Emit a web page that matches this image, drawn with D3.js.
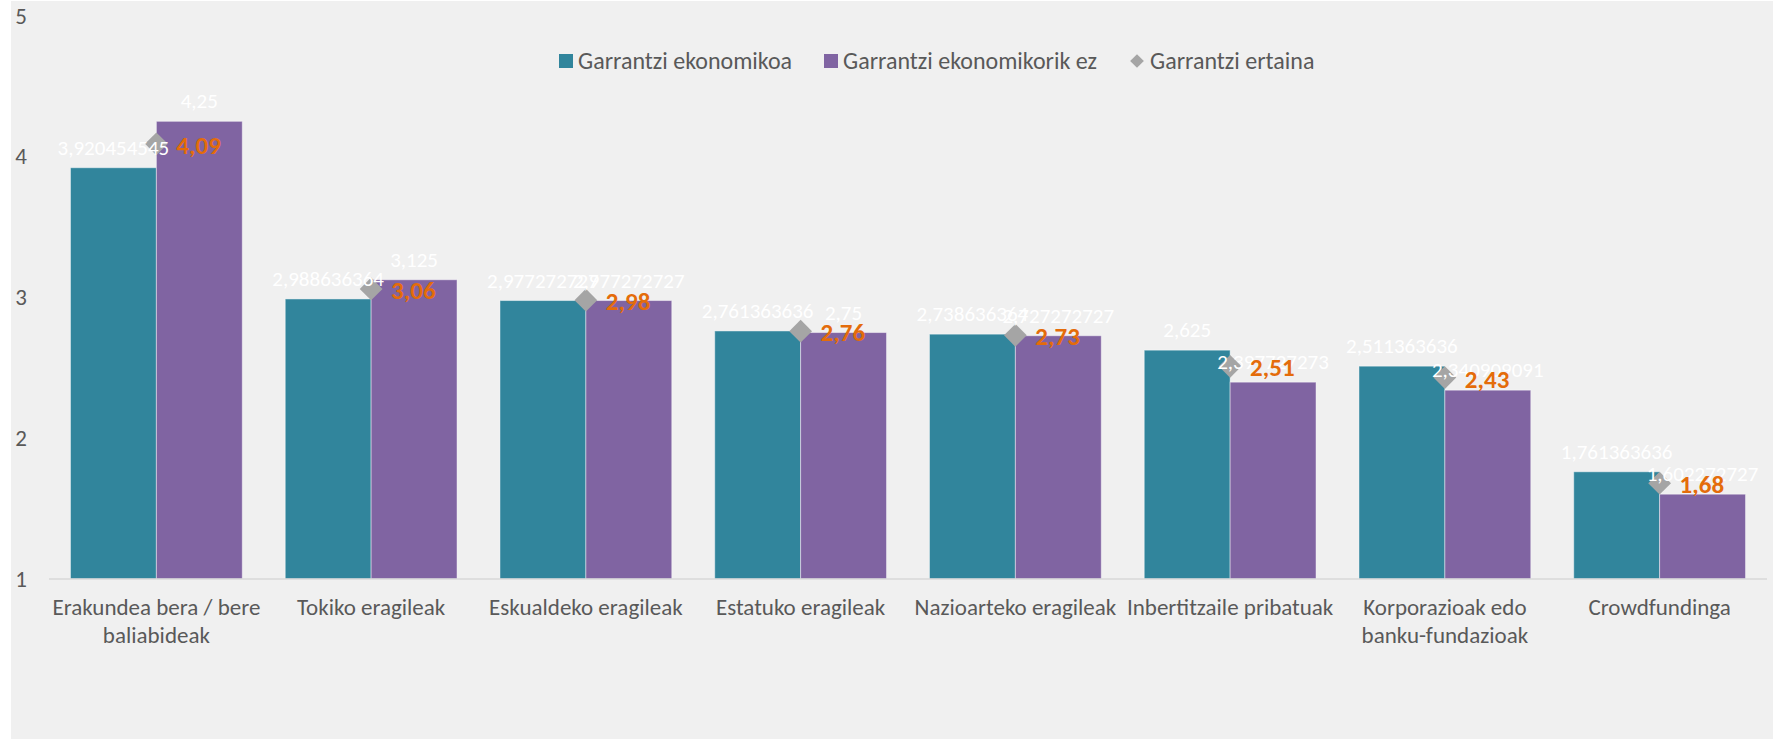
<!DOCTYPE html>
<html>
<head>
<meta charset="utf-8">
<script src="https://cdn.jsdelivr.net/npm/d3@7"></script>
<style>
  body { margin: 0; background: #fff; }
  text { font-family: Calibri, Carlito, "Open Sans", sans-serif; }
</style>
</head>
<body>
<div class="chart"></div>
<script>
var categories = ["Erakundea bera / bere\nbaliabideak", "Tokiko eragileak", "Eskualdeko eragileak",
  "Estatuko eragileak", "Nazioarteko eragileak", "Inbertitzaile pribatuak",
  "Korporazioak edo\nbanku-fundazioak", "Crowdfundinga"];
var ekonomikoa = [3.920454545, 2.988636364, 2.977272727, 2.761363636, 2.738636364, 2.625, 2.511363636, 1.761363636];
var ekonomikorikEz = [4.25, 3.125, 2.977272727, 2.75, 2.727272727, 2.397727273, 2.340909091, 1.602272727];
var ertaina = [4.09, 3.06, 2.98, 2.76, 2.73, 2.51, 2.43, 1.68];
var seriesNames = ["Garrantzi ekonomikoa", "Garrantzi ekonomikorik ez", "Garrantzi ertaina"];
var yTicks = [1, 2, 3, 4, 5];

var width = 1773, height = 739;
var margin = {top: 16, right: 6, bottom: 160, left: 49};

var svg = d3.select(".chart").append("svg")
  .attr("width", width)
  .attr("height", height);

// chart area background
svg.append("rect")
  .attr("x", 11).attr("y", 1)
  .attr("width", width - 11).attr("height", height - 1)
  .attr("fill", "#f0f0f0");

var x = d3.scaleBand()
  .domain(categories)
  .range([margin.left, width - margin.right])
  .paddingInner(0.2)
  .paddingOuter(0.1);

var x1 = d3.scaleBand()
  .domain([0, 1])
  .range([0, x.bandwidth()]);

var y = d3.scaleLinear()
  .domain([1, 5])
  .range([579, 15.7]);

var colors = ["#31859c", "#8064a2"];
var fmt = function(v) { return String(v).replace(".", ","); };

// y tick labels
svg.selectAll(".ytick")
  .data(yTicks)
  .enter().append("text")
  .attr("x", 27)
  .attr("y", function(d) { return y(d); })
  .attr("dy", "0.34em")
  .attr("text-anchor", "end")
  .attr("fill", "#595959")
  .style("font-size", "23px")
  .text(function(d) { return d; });

// bars
var rows = categories.map(function(c, i) { return {cat: c, vals: [ekonomikoa[i], ekonomikorikEz[i]], mid: ertaina[i]}; });

var group = svg.selectAll(".grp")
  .data(rows)
  .enter().append("g")
  .attr("transform", function(d) { return "translate(" + x(d.cat) + ",0)"; });

group.selectAll("rect")
  .data(function(d) { return d.vals; })
  .enter().append("rect")
  .attr("x", function(d, i) { return x1(i); })
  .attr("y", function(d) { return y(d); })
  .attr("width", x1.bandwidth())
  .attr("height", function(d) { return y(1) - y(d); })
  .attr("fill", function(d, i) { return colors[i]; })
  .attr("stroke", "rgba(255,255,255,0.45)")
  .attr("stroke-width", 1);

// x axis line
svg.append("line")
  .attr("x1", margin.left).attr("x2", width - margin.right)
  .attr("y1", y(1)).attr("y2", y(1))
  .attr("stroke", "#d9d9d9")
  .attr("stroke-width", 1.5);

// diamonds
var diamond = d3.symbol().type(d3.symbolDiamond2).size(330);
group.append("path")
  .attr("d", diamond)
  .attr("transform", function(d) { return "translate(" + x.bandwidth() / 2 + "," + y(d.mid) + ")"; })
  .attr("fill", "#a5a5a5");

// white value labels
group.selectAll(".vlab")
  .data(function(d) { return d.vals; })
  .enter().append("text")
  .attr("x", function(d, i) { return x1(i) + x1.bandwidth() / 2; })
  .attr("y", function(d) { return y(d) - 13; })
  .attr("text-anchor", "middle")
  .attr("fill", "#ffffff")
  .style("font-size", "21px")
  .text(fmt);

// orange average labels
group.append("text")
  .attr("x", x.bandwidth() / 2 + 20)
  .attr("y", function(d) { return y(d.mid); })
  .attr("dy", "0.4em")
  .attr("fill", "#e46c0a")
  .style("font-size", "25px")
  .style("font-weight", "bold")
  .text(function(d) { return d.mid.toFixed(2).replace(".", ","); });

// category labels
group.append("text")
  .attr("text-anchor", "middle")
  .attr("fill", "#595959")
  .style("font-size", "23px")
  .each(function(d) {
    var t = d3.select(this);
    d.cat.split("\n").forEach(function(line, k) {
      t.append("tspan")
        .attr("x", x.bandwidth() / 2)
        .attr("y", 615 + k * 28)
        .text(line);
    });
  });

// legend
var legend = svg.append("g");
var legX = [559, 824, 1129];
seriesNames.forEach(function(name, i) {
  if (i < 2) {
    legend.append("rect")
      .attr("x", legX[i]).attr("y", 54)
      .attr("width", 14).attr("height", 14)
      .attr("fill", colors[i]);
  } else {
    legend.append("path")
      .attr("d", d3.symbol().type(d3.symbolDiamond2).size(120))
      .attr("transform", "translate(" + (legX[i] + 8) + ",61)")
      .attr("fill", "#a5a5a5");
  }
  legend.append("text")
    .attr("x", legX[i] + (i < 2 ? 19 : 21))
    .attr("y", 61)
    .attr("dy", "0.34em")
    .attr("fill", "#595959")
    .style("font-size", "24px")
    .text(name);
});
</script>
</body>
</html>
